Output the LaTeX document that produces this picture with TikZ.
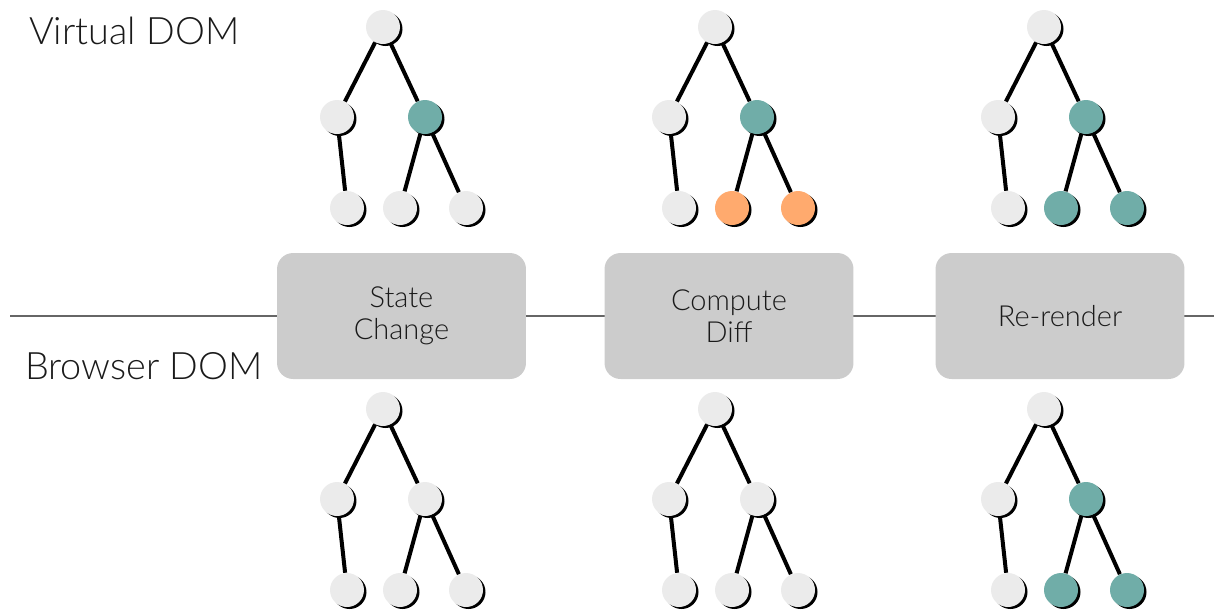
\documentclass[tikz,border=0pt]{standalone}
\usepackage{fontspec}
\setmainfont{Lato Light}
\usepackage{tikz}
\usetikzlibrary{shadows}

\definecolor{nodegray}{HTML}{EBEBEB}
\definecolor{nodeteal}{HTML}{70ADA8}
\definecolor{nodeorange}{HTML}{FFAA6E}
\definecolor{boxgray}{HTML}{CCCCCC}
\definecolor{textdark}{HTML}{1A1A1A}

\begin{document}
\begin{tikzpicture}[x=0.02cm, y=-0.02cm,
  dom/.style={circle, minimum size=0.68cm, inner sep=0pt, fill=#1,
    drop shadow={shadow xshift=0.05cm, shadow yshift=-0.04cm, fill=black, opacity=1}},
  dom/.default=nodegray,
  link/.style={line width=0.08cm, black},
  stepbox/.style={rounded corners=0.32cm, fill=boxgray, minimum width=4.98cm,
    minimum height=2.52cm, align=center, text=textdark,
    font=\fontsize{16.5}{18}\selectfont},
  caption/.style={anchor=base west, text=textdark, font=\fontsize{21.5}{24}\selectfont}]
  \useasboundingbox (0,0) rectangle (1214,610);

  % timeline behind the steps
  \coordinate (lineL) at (10,316);
  \coordinate (lineR) at (1214,316);
  \draw[line width=0.025cm, gray!80!black] (lineL) -- (lineR);

  \node[stepbox] (state) at (401.5,316) {State\\Change};
  \node[stepbox] (diff) at (729,316) {Compute\\Diff};
  \node[stepbox] (render) at (1060,316) {Re-render};

  \node[caption] (virtual) at (23,44) {Virtual DOM};
  \node[caption] (browser) at (19,379) {Browser DOM};

  % trees: name / root x / root y / inner colour / leaf colour
  \foreach \t/\x/\y/\cm/\cl in {a/383/27/nodeteal/nodegray,
      b/715/27/nodeteal/nodeorange, c/1044/27/nodeteal/nodeteal,
      d/383/409/nodegray/nodegray, e/715/409/nodegray/nodegray,
      f/1044/409/nodeteal/nodeteal} {
    \node[dom] (\t0) at (\x,\y) {};
    \node[dom] (\t1) at (\x-46,\y+90) {};
    \node[dom=\cm] (\t2) at (\x+42,\y+90) {};
    \node[dom] (\t3) at (\x-36,\y+181) {};
    \node[dom=\cl] (\t4) at (\x+17,\y+181) {};
    \node[dom=\cl] (\t5) at (\x+83,\y+181) {};
    \draw[link] (\t0) -- (\t1);
    \draw[link] (\t0) -- (\t2);
    \draw[link] (\t1) -- (\t3);
    \draw[link] (\t2) -- (\t4);
    \draw[link] (\t2) -- (\t5);
  }
\end{tikzpicture}
\end{document}
